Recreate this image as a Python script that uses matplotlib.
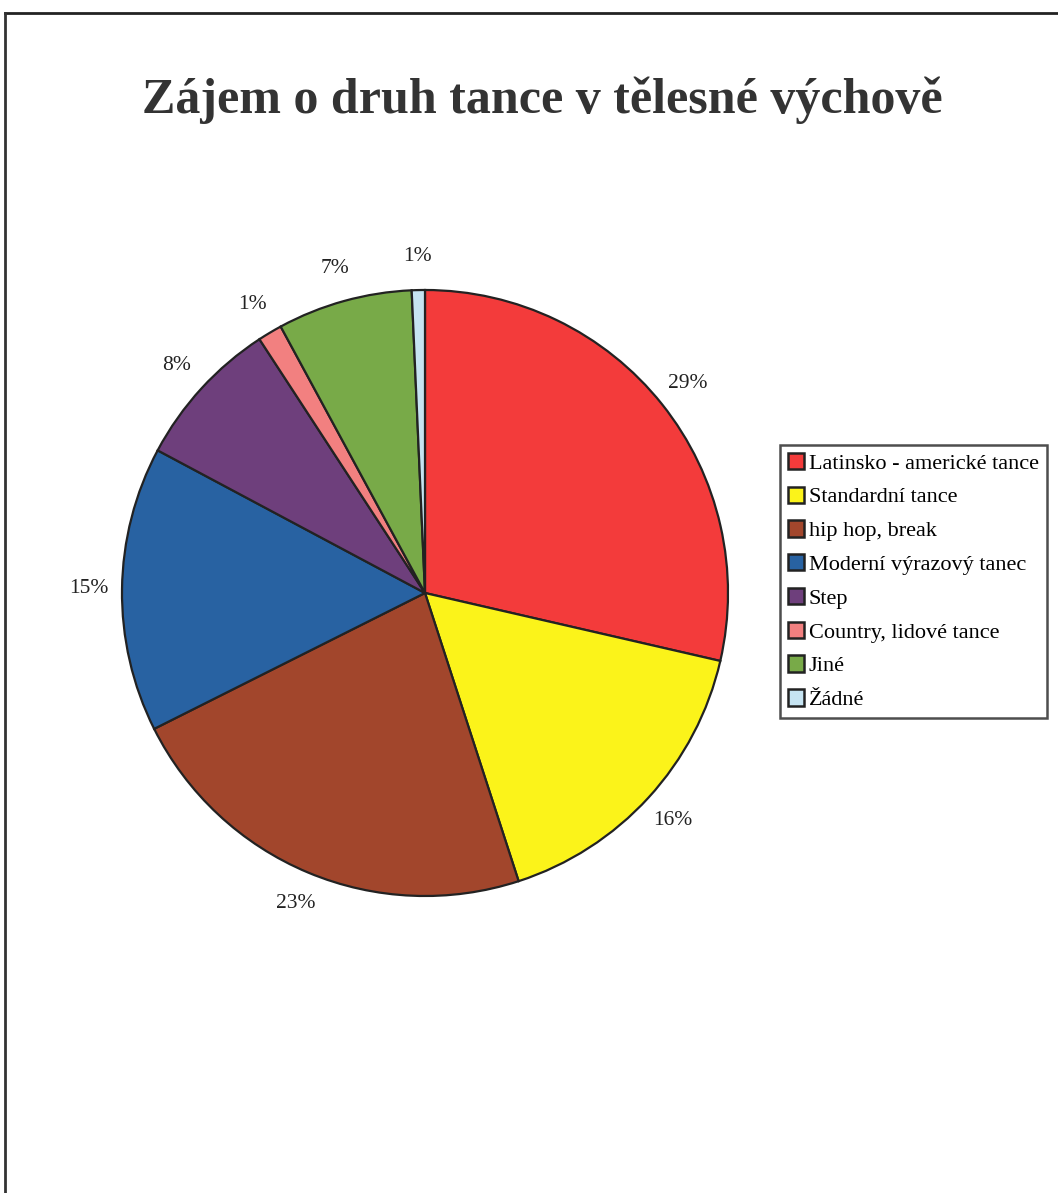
import numpy as np
import matplotlib.pyplot as plt
from matplotlib.lines import Line2D

plt.rcParams['font.family'] = ['Liberation Serif', 'DejaVu Serif']

# Data (shares in %)
categories = ["Latinsko - americké tance", "Standardní tance", "hip hop, break",
              "Moderní výrazový tanec", "Step", "Country, lidové tance", "Jiné", "Žádné"]
shares = [28.6, 16.4, 22.6, 15.2, 8.0, 1.3, 7.2, 0.7]
colors = ["#f33b3b", "#fbf31a", "#a2462c", "#2862a2", "#6e3f7c", "#f28080", "#78aa48", "#c6e4f2"]

W, H = 1058, 1193
fig = plt.figure(figsize=(W / 100, H / 100), dpi=100)

# pie center / radius in pixels
cx, cy, r = 425, 593, 303
ax = fig.add_axes([(cx - r) / W, (H - cy - r) / H, 2 * r / W, 2 * r / H])

wedges, texts, autotexts = ax.pie(
    shares, colors=colors, startangle=90, counterclock=False,
    autopct="%1.0f%%", pctdistance=1.11,
    wedgeprops=dict(edgecolor="#222222", linewidth=1.6),
    textprops=dict(fontsize=15.5, color="#222222"))
ax.set_xlim(-1, 1)
ax.set_ylim(-1, 1)
ax.set_aspect("equal")
ax.axis("off")

fig.text(542 / W, 1 - 100 / H, "Zájem o druh tance v tělesné výchově",
         ha="center", va="center", fontsize=36, fontweight="bold", color="#333333")

leg = fig.legend(wedges, categories, loc="upper left",
                 bbox_to_anchor=(780 / W, 1 - 445 / H),
                 fontsize=16, frameon=True, fancybox=False,
                 edgecolor="#222222", handlelength=0.75, handleheight=0.75,
                 handletextpad=0.2, labelspacing=0.58, borderpad=0.35,
                 borderaxespad=0)
leg.get_frame().set_linewidth(1.8)
for h in leg.legend_handles:
    h.set_edgecolor("#222222")
    h.set_linewidth(1.8)

# page border (top and left visible)
fig.add_artist(Line2D([5 / W, 1], [1 - 13 / H, 1 - 13 / H], color="#222222", lw=2))
fig.add_artist(Line2D([5 / W, 5 / W], [0, 1 - 13 / H], color="#333333", lw=2))

fig.savefig("out.png", dpi=100)
